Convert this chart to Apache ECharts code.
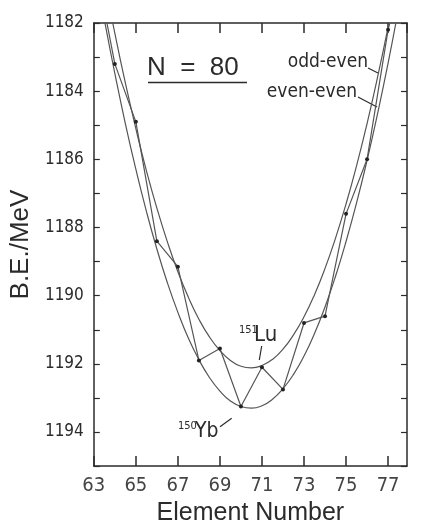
<!DOCTYPE html>
<html>
<head>
<meta charset="utf-8">
<script src="https://cdn.jsdelivr.net/npm/echarts@6/dist/echarts.min.js"></script>
<style>
  html, body { margin: 0; padding: 0; background: #fff; }
  #myChart { width: 431px; height: 531px; }
</style>
</head>
<body>
<div id="myChart"></div>
<script>
// proton number grid for the two fitted parabolas
const curveZ = [63.5, 64, 64.5, 65, 65.5, 66, 66.5, 67, 67.5, 68, 68.5, 69, 69.5, 70, 70.5,
  71, 71.5, 72, 72.5, 73, 73.5, 74, 74.5, 75, 75.5, 76, 76.5, 77, 77.5];
// odd-even curve (B.E. in MeV)
const oddEvenBE = [1180.73, 1182.30, 1183.76, 1185.10, 1186.33, 1187.43, 1188.42, 1189.30, 1190.05,
  1190.69, 1191.21, 1191.61, 1191.90, 1192.07, 1192.12, 1192.05, 1191.87, 1191.57, 1191.15,
  1190.62, 1189.97, 1189.20, 1188.31, 1187.31, 1186.19, 1184.95, 1183.59, 1182.12, 1180.53];
// even-even curve
const evenEvenBE = [1181.90, 1183.48, 1184.95, 1186.29, 1187.52, 1188.63, 1189.62, 1190.49, 1191.25,
  1191.88, 1192.40, 1192.80, 1193.09, 1193.25, 1193.30, 1193.23, 1193.04, 1192.73, 1192.31,
  1191.77, 1191.11, 1190.33, 1189.43, 1188.41, 1187.28, 1186.03, 1184.66, 1183.18, 1181.57];
// measured chain, N = 80
const elementZ = [63, 64, 65, 66, 67, 68, 69, 70, 71, 72, 73, 74, 75, 76, 77, 78];
const measuredBE = [1180.0, 1183.2, 1184.9, 1188.4, 1189.15, 1191.9, 1191.55, 1193.25, 1192.1,
  1192.75, 1190.8, 1190.6, 1187.6, 1186.0, 1182.2, 1179.8];

const zip = (xs, ys) => xs.map((x, i) => [x, ys[i]]);

const narrow = "'Liberation Sans Narrow', 'DejaVu Sans Condensed', sans-serif";
const regular = "'Liberation Sans', Arial, sans-serif";
const ink = '#2b2b2b';
const lineInk = '#555';

let myChart = echarts.init(document.getElementById('myChart'), null, { renderer: 'canvas' });

let option = {
  backgroundColor: '#fff',
  animation: false,
  grid: { left: 89, right: 24, top: 23, bottom: 61 },
  xAxis: [
    {
      type: 'value', min: 63, max: 77.9, interval: 2, position: 'bottom',
      name: 'Element Number', nameLocation: 'middle', nameGap: 31,
      nameTextStyle: { fontFamily: regular, fontSize: 25, color: ink },
      axisLine: { lineStyle: { color: ink, width: 1.5 } },
      axisTick: { inside: true, length: 10, lineStyle: { color: ink, width: 1.5 } },
      axisLabel: { showMaxLabel: false, margin: 10, fontFamily: narrow, fontSize: 20, color: '#444' },
      splitLine: { show: false }
    },
    {
      type: 'value', min: 63, max: 77.9, interval: 2, position: 'top',
      axisLine: { lineStyle: { color: ink, width: 1.5 } },
      axisTick: { inside: true, length: 10, lineStyle: { color: ink, width: 1.5 } },
      axisLabel: { show: false },
      splitLine: { show: false }
    }
  ],
  yAxis: [
    {
      type: 'value', min: 1182, max: 1195, interval: 1, inverse: true, position: 'left',
      name: 'B.E./MeV', nameLocation: 'middle', nameGap: 49,
      nameTextStyle: { fontFamily: regular, fontSize: 26, color: ink },
      axisLine: { lineStyle: { color: ink, width: 1.5 } },
      axisTick: { inside: true, length: 6, lineStyle: { color: ink, width: 1.2 } },
      axisLabel: {
        margin: 10, fontFamily: narrow, fontSize: 17, color: ink,
        formatter: v => (v % 2 === 0 && v < 1195 ? String(v) : '')
      },
      splitLine: { show: false }
    },
    {
      type: 'value', min: 1182, max: 1195, interval: 1, inverse: true, position: 'right',
      axisLine: { show: true, lineStyle: { color: ink, width: 1.5 } },
      axisTick: { show: true, inside: true, length: 6, lineStyle: { color: ink, width: 1.2 } },
      axisLabel: { show: false },
      splitLine: { show: false }
    }
  ],
  series: [
    {
      name: 'odd-even', type: 'line', smooth: true, showSymbol: false,
      data: zip(curveZ, oddEvenBE),
      lineStyle: { color: lineInk, width: 1.2 }
    },
    {
      name: 'even-even', type: 'line', smooth: true, showSymbol: false,
      data: zip(curveZ, evenEvenBE),
      lineStyle: { color: lineInk, width: 1.2 }
    },
    {
      name: 'measured', type: 'line', symbol: 'circle', symbolSize: 4,
      data: zip(elementZ, measuredBE),
      lineStyle: { color: lineInk, width: 1.2 },
      itemStyle: { color: '#222' }
    }
  ],
  graphic: [
    // N = 80 heading with underline
    { type: 'text', x: 147, y: 68, style: { text: 'N  =  80', font: '26px ' + regular, fill: ink, textVerticalAlign: 'middle', verticalAlign: 'middle' } },
    { type: 'line', shape: { x1: 148, y1: 82.5, x2: 247, y2: 82.5 }, style: { stroke: ink, lineWidth: 1.3 } },
    // curve labels
    { type: 'text', x: 368, y: 62, style: { text: 'odd-even', font: '19px ' + narrow, fill: ink, textAlign: 'right', align: 'right', textVerticalAlign: 'middle', verticalAlign: 'middle' } },
    { type: 'line', shape: { x1: 368, y1: 68, x2: 378, y2: 73 }, style: { stroke: ink, lineWidth: 1.2 } },
    { type: 'text', x: 357, y: 92, style: { text: 'even-even', font: '19px ' + narrow, fill: ink, textAlign: 'right', align: 'right', textVerticalAlign: 'middle', verticalAlign: 'middle' } },
    { type: 'line', shape: { x1: 358, y1: 97, x2: 377, y2: 107 }, style: { stroke: ink, lineWidth: 1.2 } },
    // 151Lu
    { type: 'text', x: 239, y: 325, style: { text: '151', font: '11px ' + narrow, fill: ink, textVerticalAlign: 'top', verticalAlign: 'top' } },
    { type: 'text', x: 254, y: 335, style: { text: 'Lu', font: '22px ' + narrow, fill: ink, textVerticalAlign: 'middle', verticalAlign: 'middle' } },
    { type: 'line', shape: { x1: 261.7, y1: 346, x2: 259.3, y2: 360 }, style: { stroke: ink, lineWidth: 1.2 } },
    // 150Yb
    { type: 'text', x: 178, y: 421, style: { text: '150', font: '11px ' + narrow, fill: ink, textVerticalAlign: 'top', verticalAlign: 'top' } },
    { type: 'text', x: 195, y: 432, style: { text: 'Yb', font: '21px ' + narrow, fill: ink, textVerticalAlign: 'middle', verticalAlign: 'middle' } },
    { type: 'line', shape: { x1: 220, y1: 426.7, x2: 231.7, y2: 418.3 }, style: { stroke: ink, lineWidth: 1.2 } }
  ]
};

myChart.setOption(option);
</script>
</body>
</html>
